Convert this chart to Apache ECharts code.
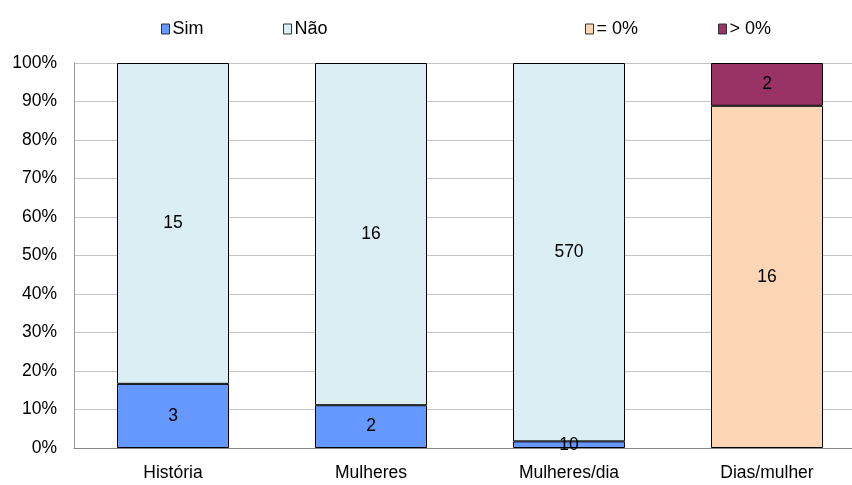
<!DOCTYPE html>
<html style="height: 100%;">
<head>
<meta charset="utf-8">
<title>Gráfico</title>
<script src="https://cdn.jsdelivr.net/npm/echarts@6/dist/echarts.min.js"></script>
</head>
<body style="height: 100%; margin: 0; background: #fff; overflow: hidden;">
<!-- o gráfico original é cortado à direita: a área desenha-se um pouco além da janela -->
<div id="chart" style="width: 866px; height: 485px;"></div>
<script>
// categorias e contagens
var categorias = ['História', 'Mulheres', 'Mulheres/dia', 'Dias/mulher'];
var sim = [3, 2, 10, null];
var nao = [15, 16, 570, null];
var igual0 = [null, null, null, 16];
var maior0 = [null, null, null, 2];
var yTicks = [0, 10, 20, 30, 40, 50, 60, 70, 80, 90, 100];

var grupos = [
    {name: 'Sim', data: sim, stack: 'a', cor: '#6699FF'},
    {name: 'Não', data: nao, stack: 'a', cor: '#DAEEF3'},
    {name: '= 0%', data: igual0, stack: 'a', cor: '#FCD5B5'},
    {name: '> 0%', data: maior0, stack: 'a', cor: '#993366'}
];

// totais por categoria para passar a 100%
var totais = categorias.map(function (c, i) {
    var t = 0;
    grupos.forEach(function (g) { if (g.data[i] != null) t += g.data[i]; });
    return t;
});

var fonte = 'Liberation Sans, Arial, sans-serif';

var series = grupos.map(function (g) {
    return {
        name: g.name,
        type: 'bar',
        stack: g.stack,
        barWidth: 112,
        itemStyle: {color: g.cor, borderColor: '#000', borderWidth: 1},
        label: {
            show: true,
            position: 'inside',
            color: '#000',
            fontFamily: fonte,
            fontSize: 17.5,
            formatter: function (p) { return p.data.count; }
        },
        data: g.data.map(function (v, i) {
            if (v == null) return null;
            return {value: v / totais[i] * 100, count: v};
        })
    };
});

var legendas = [
    {nome: 'Sim', left: 156},
    {nome: 'Não', left: 278},
    {nome: '= 0%', left: 580},
    {nome: '> 0%', left: 713}
].map(function (l) {
    return {
        data: [l.nome],
        left: l.left,
        top: 15,
        icon: 'rect',
        itemWidth: 8,
        itemHeight: 10,
        itemGap: 0,
        textStyle: {color: '#000', fontFamily: fonte, fontSize: 18, padding: [0, 0, 0, -2]},
        itemStyle: {borderColor: '#333', borderWidth: 1}
    };
});

var chart = echarts.init(document.getElementById('chart'));
chart.setOption({
    animation: false,
    legend: legendas,
    grid: {left: 74, top: 63, bottom: 37, right: 0},
    xAxis: {
        type: 'category',
        data: categorias,
        axisTick: {show: false},
        axisLine: {lineStyle: {color: '#888', width: 1}},
        axisLabel: {color: '#000', fontFamily: fonte, fontSize: 17.5, margin: 16}
    },
    yAxis: {
        type: 'value',
        min: yTicks[0],
        max: yTicks[yTicks.length - 1],
        interval: yTicks[1] - yTicks[0],
        axisLine: {show: true, lineStyle: {color: '#999'}},
        axisTick: {show: false},
        splitLine: {lineStyle: {color: '#c4c4c4'}},
        axisLabel: {color: '#000', fontFamily: fonte, fontSize: 17.5, margin: 17, formatter: '{value}%'}
    },
    series: series
});
</script>
</body>
</html>
